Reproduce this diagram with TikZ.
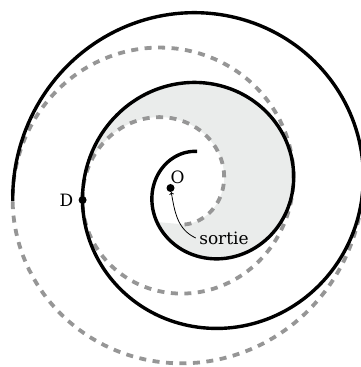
\documentclass[tikz,border=0pt]{standalone}
\usepackage{fontspec}
\setmainfont{DejaVu Serif}
\usepackage{xcolor}
\usepackage{tikz}
\usetikzlibrary{positioning}

\definecolor{trailgray}{RGB}{150,150,150}
\definecolor{sweptgray}{RGB}{234,236,235}

\begin{document}
\begin{tikzpicture}[
    x=1pt, y=1pt,
    declare function={rb(\t)=0.19444*(\t+90); rg(\t)=0.19444*(\t+270);},
    spiral/.style={draw=black, line width=3.4pt},
    trail/.style={draw=trailgray, line width=3.8pt, dash pattern=on 7pt off 6.5pt},
    dot/.style={circle, fill=black, inner sep=0pt, minimum size=8pt},
    lbl/.style={font=\fontsize{17}{20}\selectfont},
    arrow/.style={->, >=to, line width=0.8pt}
]
    \useasboundingbox (0,0) rectangle (360,367);

    % swept area between the dashed turn and the solid turn
    \fill[sweptgray] plot[domain=-69:180, samples=150] ({170.5+rg(\x)*cos(\x)}, {179+rg(\x)*sin(\x)})
        -- plot[domain=0:325, samples=150] ({205.5+rb(540-\x)*cos(540-\x)}, {179+rb(540-\x)*sin(540-\x)}) -- cycle;

    \draw[trail] plot[domain=-69:720, samples=400] ({170.5+rg(\x)*cos(\x)}, {179+rg(\x)*sin(\x)});
    \draw[spiral] plot[domain=103:904, samples=400] ({205.5+rb(\x)*cos(\x)}, {179+rb(\x)*sin(\x)});

    \node (o) [dot] at (170.5,179) {};
    \node (d) [dot] at (82.6,167) {};
    \node (dlabel) [lbl, left=1.5pt of d] {D};
    \node (olabel) [lbl, above right=-2.5pt and -6.5pt of o] {O};
    \node (sortie) [lbl] at (224,129) {sortie};

    \draw[arrow] (sortie.west) to[out=155, in=-80] (o);
\end{tikzpicture}
\end{document}
